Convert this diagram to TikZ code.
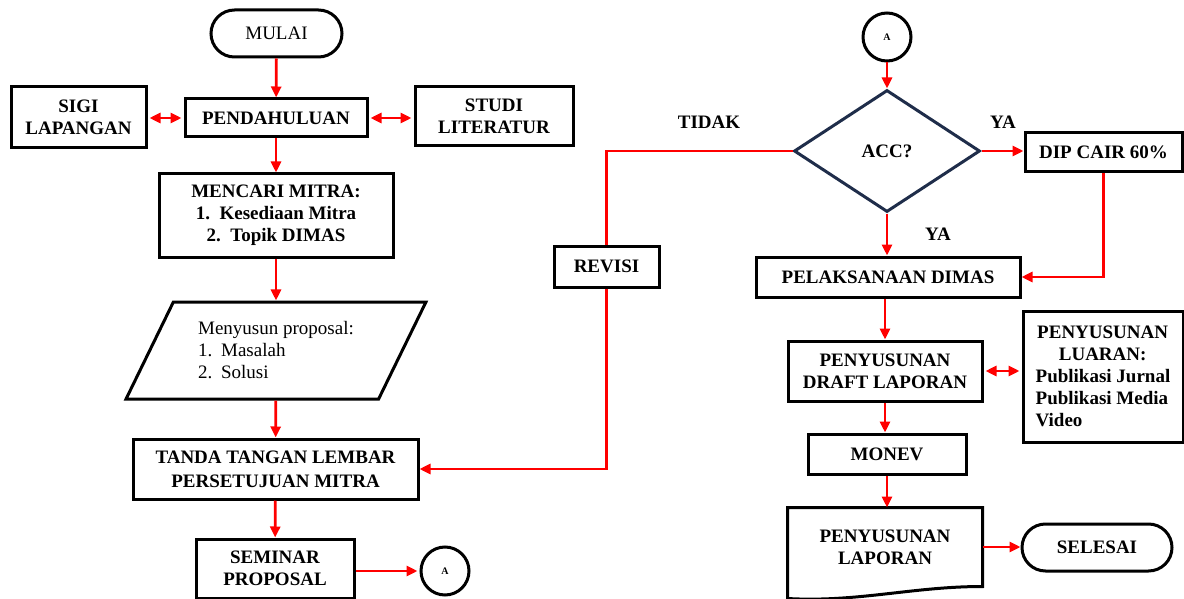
\documentclass[tikz,border=0pt]{standalone}
\usepackage{fontspec}
\setmainfont{Liberation Serif}
\usetikzlibrary{positioning,arrows.meta,shapes.geometric,shapes.misc}
\definecolor{navy}{RGB}{31,45,74}
\tikzset{
    process/.style = {
        draw,
        line width=3pt,
        inner sep=0pt,
        align=center,
        font=\fontsize{19}{22}\selectfont\bfseries,
        },
    terminal/.style = {
        rounded rectangle,
        draw,
        line width=3pt,
        inner sep=0pt,
        font=\fontsize{19}{22}\selectfont,
        },
    connector/.style = {
        circle,
        draw,
        line width=3pt,
        minimum size=48pt,
        inner sep=0pt,
        font=\fontsize{10}{10}\selectfont\bfseries,
        },
    decision/.style = {
        diamond,
        draw=navy,
        line width=3pt,
        inner sep=0pt,
        font=\fontsize{19}{22}\selectfont\bfseries,
        },
    flow/.style = {
        draw=red,
        line width=2.8pt,
        -{Triangle[length=11pt,width=10pt]},
        },
    flow both/.style = {
        flow,
        {Triangle[length=11pt,width=10pt]}-{Triangle[length=11pt,width=10pt]},
        shorten <=2pt,
        shorten >=2pt,
        },
    tag/.style = {
        font=\fontsize{19}{22}\selectfont\bfseries,
        },
}

\begin{document}
\begin{tikzpicture}[x=1pt, y=-1pt]
    \useasboundingbox (0,0) rectangle (1184,599);

    % kolom kiri
    \node [terminal, minimum width=131pt, minimum height=47pt] (mulai) at (276.5,33.5) {MULAI};
    \node [process, minimum width=182pt, minimum height=38pt] (pendahuluan) at (276,118) {PENDAHULUAN};
    \node [process, minimum width=135pt, minimum height=61pt] (sigi) at (78.5,117.5) {SIGI\\LAPANGAN};
    \node [process, minimum width=158pt, minimum height=59pt] (studi) at (494,116.5) {STUDI\\LITERATUR};
    \node [process, minimum width=234pt, minimum height=83pt] (mitra) at (276,215.5) {MENCARI MITRA:\\1.\ \ Kesediaan Mitra\\2.\ \ Topik DIMAS};
    \node [trapezium, trapezium left angle=58, trapezium right angle=122, trapezium stretches=true,
           draw, line width=3pt, inner sep=0pt, minimum width=300pt, minimum height=97pt,
           align=left, font=\fontsize{19}{22}\selectfont] (proposal) at (276,350.5)
          {Menyusun proposal:\\\makebox[23pt][l]{1.}Masalah\\\makebox[23pt][l]{2.}Solusi};
    \node [process, minimum width=285pt, minimum height=60pt, font=\fontsize{19}{24}\selectfont\bfseries] (tanda) at (275.5,469) {TANDA TANGAN LEMBAR\\PERSETUJUAN MITRA};
    \node [process, minimum width=158pt, minimum height=59pt] (seminar) at (275,568.5) {SEMINAR\\PROPOSAL};
    \node [connector] (a out) at (445,571) {A};

    % kolom kanan
    \node [connector] (a in) at (887,37) {A};
    \node [decision, minimum width=186pt, minimum height=122pt] (acc) at (887,151) {ACC?};
    \node [process, minimum width=157pt, minimum height=39pt] (dip) at (1103.5,152.5) {DIP CAIR 60\%};
    \node [process, minimum width=105pt, minimum height=41pt] (revisi) at (606.5,266.5) {REVISI};
    \node [process, minimum width=264pt, minimum height=40pt] (pelaksanaan) at (888,277) {PELAKSANAAN DIMAS};
    \node [process, minimum width=194pt, minimum height=60pt] (draft) at (885,371) {PENYUSUNAN\\DRAFT LAPORAN};
    \node [process, minimum width=160pt, minimum height=131pt, align=left] (luaran) at (1103,376.5)
          {\makebox[134pt]{PENYUSUNAN}\\\makebox[134pt]{LUARAN:}\\Publikasi Jurnal\\Publikasi Media\\Video};
    \node [process, minimum width=158pt, minimum height=40pt] (monev) at (887,454) {MONEV};
    \node [process, draw=none, minimum width=192pt, minimum height=76pt] (laporan) at (885,547) {PENYUSUNAN\\LAPORAN};
    \draw [line width=3pt] (laporan.south east) .. controls +(-70,0) and +(70,4) .. ([yshift=-12pt]laporan.south west)
          -- (laporan.north west) -- (laporan.north east) -- cycle;
    \node [terminal, minimum width=150pt, minimum height=47pt, font=\fontsize{19}{22}\selectfont\bfseries] (selesai) at (1097,547.5) {SELESAI};

    \node [tag] (tidak) at (709,122) {TIDAK};
    \node [tag] (ya kanan) at (1003,122) {YA};
    \node [tag] (ya bawah) at (938,234) {YA};

    % panah
    \draw [flow] (mulai) -- (pendahuluan);
    \draw [flow both] (sigi.east |- pendahuluan) -- (pendahuluan.west);
    \draw [flow both] (pendahuluan.east) -- (pendahuluan.east -| studi.west);
    \draw [flow] (pendahuluan) -- (mitra);
    \draw [flow] (mitra) -- (proposal);
    \draw [flow] (proposal) -- (tanda);
    \draw [flow] (tanda) -- (seminar);
    \draw [flow, shorten >=2pt] (seminar.east |- a out) -- (a out);
    \draw [flow] (a in) -- (acc);
    \draw [flow, -] (acc.west) -| (revisi.north);
    \draw [flow] (revisi.south) |- (tanda.east);
    \draw [flow] (acc.east) -- (acc.east -| dip.west);
    \draw [flow] (dip.south) |- (pelaksanaan.east);
    \draw [flow] (acc.south) -- (acc.south |- pelaksanaan.north);
    \draw [flow] (pelaksanaan.south -| draft.north) -- (draft.north);
    \draw [flow both] (draft.east) -- (draft.east -| luaran.west);
    \draw [flow] (draft.south) -- (draft.south |- monev.north);
    \draw [flow] (monev.south) -- (monev.south |- laporan.north);
    \draw [flow] (laporan.east) -- (laporan.east -| selesai.west);
\end{tikzpicture}
\end{document}
